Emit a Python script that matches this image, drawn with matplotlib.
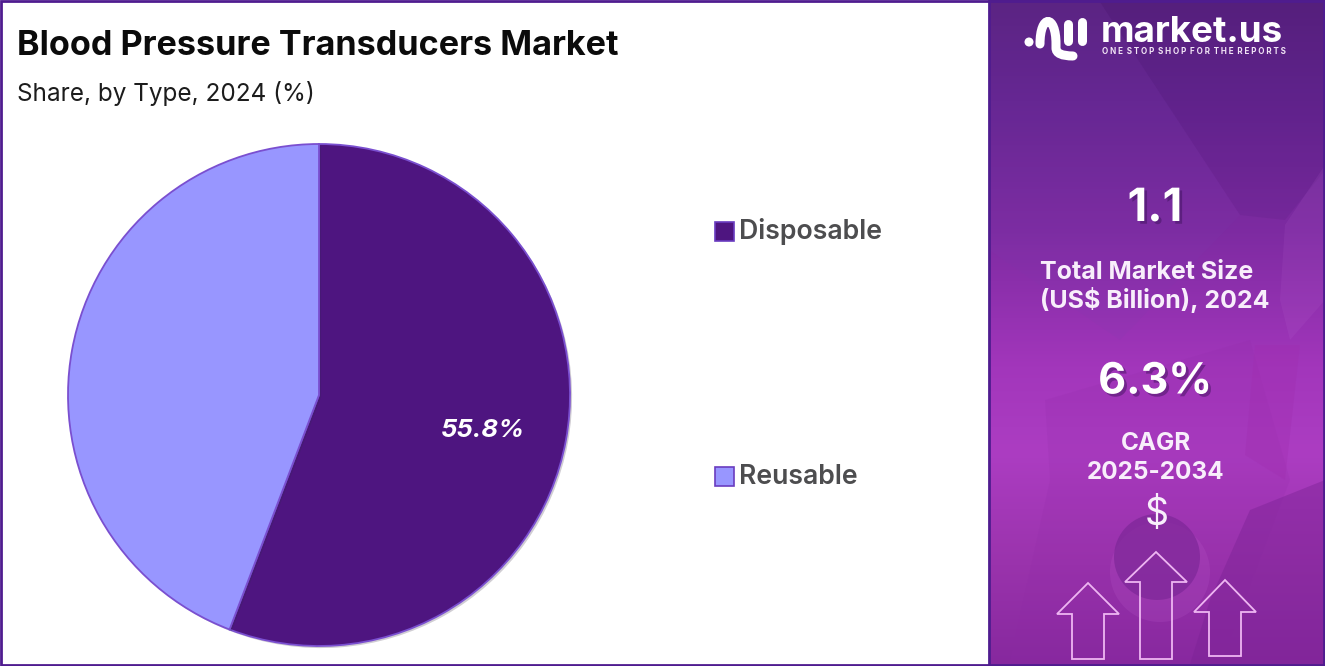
import numpy as np
from matplotlib import pyplot as plt
from matplotlib import patheffects as pe
from matplotlib.colors import LinearSegmentedColormap
from matplotlib.patches import Circle, PathPatch, Polygon, Rectangle
from matplotlib.path import Path

W, H = 1325, 666

# chart values
types = ["Disposable", "Reusable"]
shares = [55.8, 44.2]
type_colors = ["#4e1580", "#9896ff"]
title = "Blood Pressure Transducers Market"
subtitle = "Share, by Type, 2024 (%)"

market_size = "1.1"
market_label = "Total Market Size\n(US$ Billion), 2024"
cagr = "6.3%"
cagr_label = "CAGR\n2025-2034"

FONT = "Inter"
BORDER = "#4f1c8f"

fig = plt.figure(figsize=(W / 100, H / 100), dpi=100, facecolor="white")

# everything but the pie is placed in pixel coordinates
ax = fig.add_axes([0, 0, 1, 1], zorder=1)
ax.set_axis_off()

# side panel background
panel = LinearSegmentedColormap.from_list(
    "panel",
    [(0.0, "#58217f"), (0.15, "#642590"), (0.35, "#7e2ba2"),
     (0.55, "#a236bb"), (0.68, "#ac3dc2"), (0.85, "#9a33ac"), (1.0, "#86289e")],
)
ax.imshow(np.linspace(0, 1, 256).reshape(-1, 1), cmap=panel, extent=(989, W, H, 0), aspect="auto", zorder=0)
ax.set_xlim(0, W)
ax.set_ylim(H, 0)

# rough shapes of the photo behind the panel
ax.add_patch(Polygon([(1100, 2), (1325, 2), (1325, 170), (1285, 220), (1240, 215)], color="#45146e", alpha=0.12, lw=0, zorder=1))
ax.add_patch(Polygon([(1285, 225), (1325, 165), (1325, 300), (1290, 340), (1280, 300)], color="#c878e0", alpha=0.10, lw=0, zorder=1))
ax.add_patch(Polygon([(989, 2), (1100, 2), (1240, 215), (1120, 340), (989, 250)], color="#7a40b0", alpha=0.10, lw=0, zorder=1))
ax.add_patch(Polygon([(1045, 400), (1250, 340), (1290, 480), (1222, 660), (1010, 660), (1050, 480)], color="#8f2aa6", alpha=0.15, lw=0, zorder=1))
ax.add_patch(Polygon([(1245, 455), (1255, 345), (1300, 345), (1285, 480)], color="#a02eb0", alpha=0.35, lw=0, zorder=1))
ax.add_patch(Polygon([(1210, 600), (1250, 510), (1325, 480), (1325, 664), (1190, 664)], color="#7c2396", alpha=0.45, lw=0, zorder=1))
ax.add_patch(Circle((1160, 572), 50, color="#c060d0", alpha=0.18, lw=0, zorder=1))
ax.add_patch(Circle((1157, 557), 43, color="#7d2798", alpha=0.7, lw=0, zorder=1))

# outer frame and panel separator
ax.add_patch(Rectangle((1, 1), W - 2, H - 2, fill=False, ec=BORDER, lw=2, zorder=5))
ax.plot([988.5, 988.5], [0, H], color=BORDER, lw=2, zorder=5)

# title block
ax.text(17, 46, title, fontsize=24.6, fontweight="bold", family=FONT, color="#0b0b0b", va="center", ha="left", zorder=6)
ax.text(17, 94, subtitle, fontsize=17.5, family=FONT, color="#1c1c1c", va="center", ha="left", zorder=6)

# pie
pie_ax = fig.add_axes([68 / W, (H - 395 - 251) / H, 502 / W, 502 / H], zorder=2)
wedges, _ = pie_ax.pie(
    shares, colors=type_colors, startangle=90, counterclock=False, radius=1,
    wedgeprops={"edgecolor": "#7a4fd0", "linewidth": 1.3, "clip_on": False},
)
pie_ax.set_xlim(-1, 1)
pie_ax.set_ylim(-1, 1)
for w in wedges:
    w.set_path_effects([pe.SimplePatchShadow(offset=(1.5, -1.5), alpha=0.2), pe.Normal()])
pie_ax.text(0.65, -0.14, f"{shares[0]}%", fontsize=18.5, fontweight="bold", style="italic",
            family=FONT, color="white", ha="center", va="center")

# legend
for name, color, y in zip(types, type_colors, [231.5, 476.5]):
    ax.add_patch(Rectangle((714.5, y - 9.5), 19, 19, fc=color, ec="#6a3cc0", lw=1.2, zorder=6))
    ax.text(739, y, name, fontsize=19.2, fontweight="semibold", family=FONT, color="#4d4d4f", va="center", ha="left", zorder=6)

# logo
logo = dict(color="white", lw=6.5, solid_capstyle="round", zorder=7)
ax.add_patch(Circle((1029, 42), 4.5, color="white", lw=0, zorder=7))
arch = Path(
    [(1040, 44), (1040, 14), (1056, 14), (1056, 44), (1056, 48), (1056, 56), (1073, 56)],
    [Path.MOVETO, Path.CURVE4, Path.CURVE4, Path.CURVE4, Path.LINETO, Path.CURVE3, Path.CURVE3],
)
ax.add_patch(PathPatch(arch, fc="none", ec="white", lw=6.5, capstyle="round", zorder=7))
ax.plot([1068, 1068], [24, 41], **logo)
ax.plot([1082, 1082], [22, 41], **logo)
ax.text(1101, 42, "market.us", fontsize=26.5, fontweight="bold", family=FONT, color="white", ha="left", va="baseline", zorder=7)
ax.text(1102, 54, "O N E  S T O P  S H O P  F O R  T H E  R E P O R T S", fontsize=5.8, fontweight="bold",
        family=FONT, color="#f1e4f5", ha="left", va="baseline", zorder=7)

# key figures
for txt, y, size in [(market_size, 209, 33), (cagr, 382, 31)]:
    t = ax.text(1155, y, txt, fontsize=size, fontweight="bold", family=FONT, color="white", ha="center", va="center", zorder=7)
    t.set_path_effects([pe.withSimplePatchShadow(offset=(2, -2), shadow_rgbFace="#3a1058", alpha=0.45)])
ax.text(1040, 287, market_label, fontsize=18, fontweight="bold", family=FONT, color="#f8eefb",
        ha="left", va="center", linespacing=1.15, zorder=7)
ax.text(1156, 458, cagr_label, fontsize=17.5, fontweight="bold", family=FONT, color="#f8eefb",
        ha="center", va="center", linespacing=1.3, zorder=7)
ax.text(1157, 515, "$", fontsize=27, family=FONT, color="#f8eefb", ha="center", va="center", zorder=7)

# outlined arrows
for tip_x, tip_y, wing_y, base_y in [(1088, 583, 614, 659), (1156, 552, 582, 659), (1225, 580, 612, 656)]:
    outline = [(tip_x, tip_y), (tip_x + 31, wing_y), (tip_x + 16, wing_y), (tip_x + 16, base_y),
               (tip_x - 16, base_y), (tip_x - 16, wing_y), (tip_x - 31, wing_y)]
    ax.add_patch(Polygon(outline, closed=True, fill=False, ec="#eeb6f2", lw=1.3, zorder=6))

fig.savefig("out.png", dpi=100)
